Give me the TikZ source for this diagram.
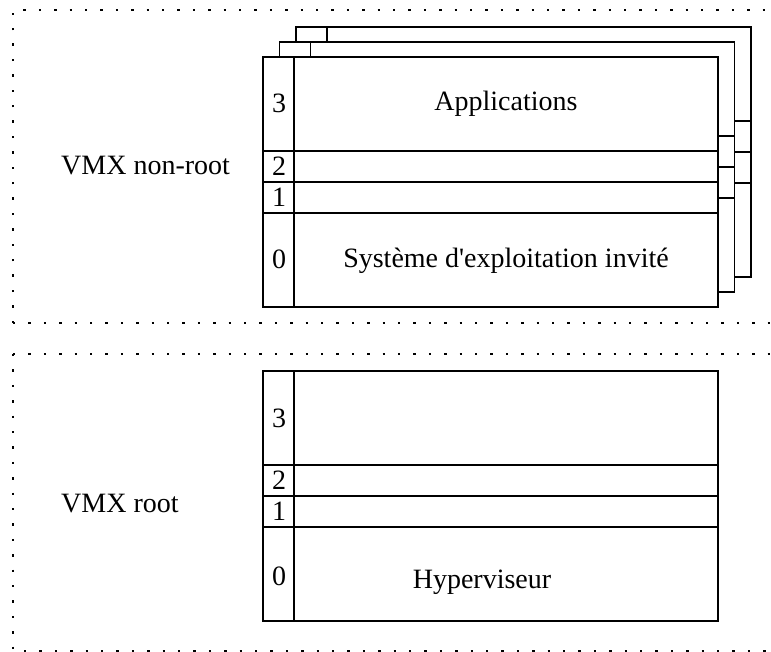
\documentclass[tikz,border=0pt]{standalone}
\usepackage{fontspec}
\setmainfont{Liberation Serif}[Ligatures=TeXOff]
\begin{document}
\begin{tikzpicture}[x=1pt,y=-1pt,
  framedots/.style={line width=2.4pt,dash pattern=on 2.4pt off 13pt},
  boxline/.style={line width=1.4pt},
  txt/.style={font=\fontsize{28}{30}\selectfont,inner sep=0pt},
  pics/ringbox/.style={code={
    \filldraw[boxline,fill=white] (0,0) rectangle (455,250);
    \draw[boxline] (31,0) -- (31,250);
    \draw[boxline] (0,94) -- (455,94);
    \draw[boxline] (0,125) -- (455,125);
    \draw[boxline] (0,156) -- (455,156);
  }}]
\useasboundingbox (0,0) rectangle (771,652);
% dotted frames
\draw[framedots] (13,323) -- (13,10) -- (771,10);
\draw[framedots] (13,323) -- (771,323);
\draw[framedots] (13,354) -- (771,354);
\draw[framedots] (13,354) -- (13,651) -- (771,651);
% stacked guest boxes
\pic at (296,27) {ringbox};
\pic at (279.5,42) {ringbox};
\pic at (263,57) {ringbox};
% host box
\pic at (263,371) {ringbox};
% labels
\node[txt,anchor=base west] (nonroot) at (61,175) {VMX non-root};
\node[txt,anchor=base west] (root) at (61,512) {VMX root};
\node[txt,anchor=base] (apps) at (506,111) {Applications};
\node[txt,anchor=base] (guest) at (506,268) {Système d'exploitation invité};
\node[txt,anchor=base] (hyp) at (482,588) {Hyperviseur};
\node[txt,anchor=base] (g3) at (279,113) {3};
\node[txt,anchor=base] (g2) at (279,176) {2};
\node[txt,anchor=base] (g1) at (279,207) {1};
\node[txt,anchor=base] (g0) at (279,269) {0};
\node[txt,anchor=base] (h3) at (279,427) {3};
\node[txt,anchor=base] (h2) at (279,489) {2};
\node[txt,anchor=base] (h1) at (279,520) {1};
\node[txt,anchor=base] (h0) at (279,585) {0};
\end{tikzpicture}
\end{document}
